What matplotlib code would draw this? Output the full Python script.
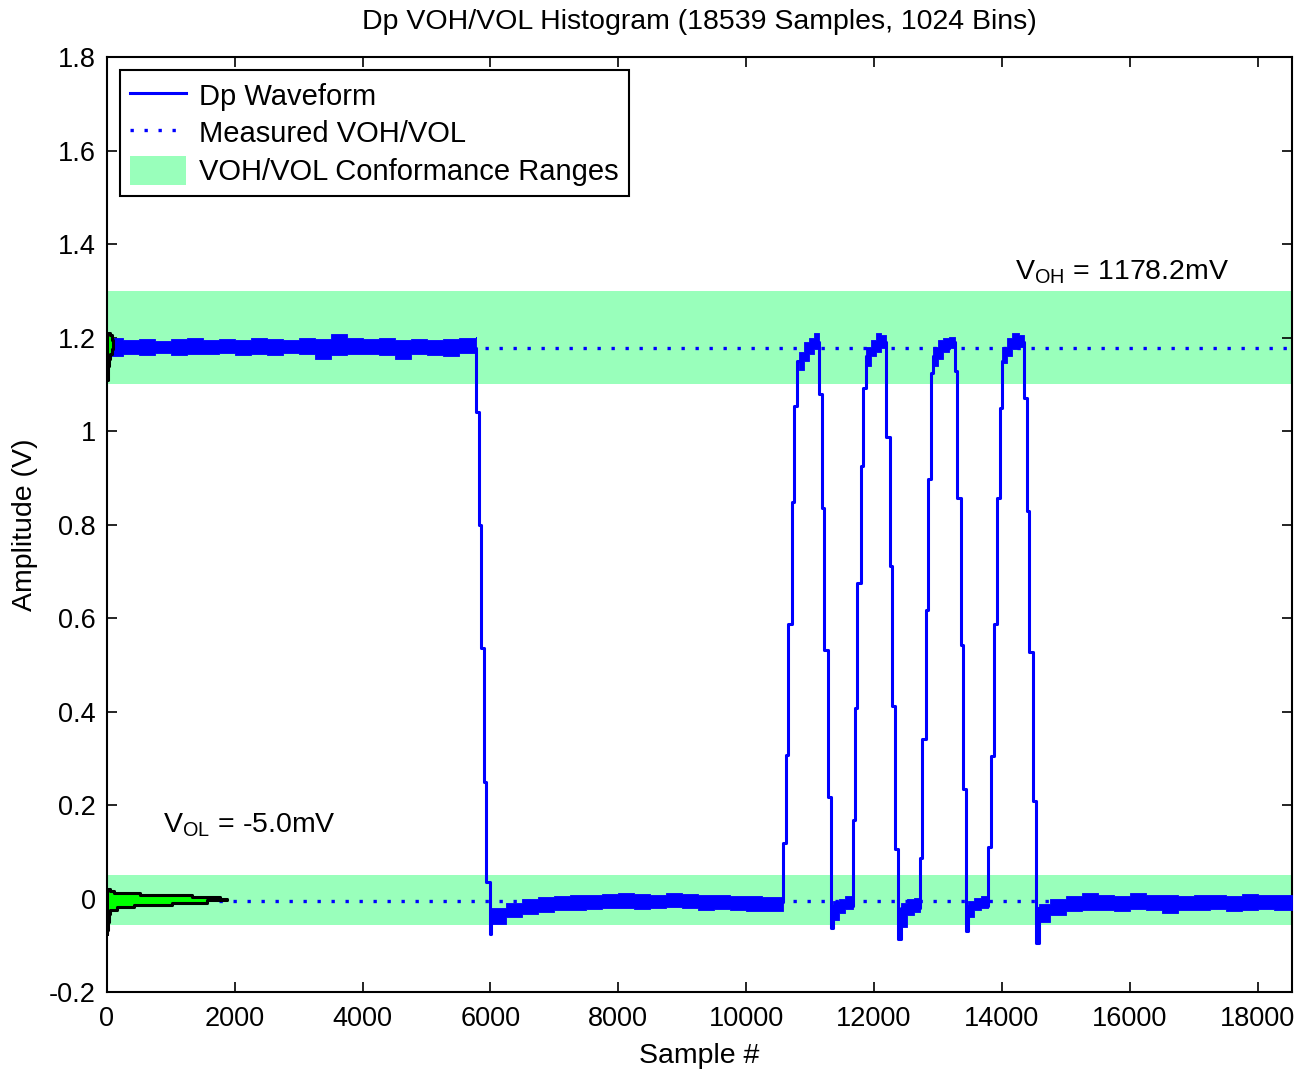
import matplotlib
matplotlib.use("Agg")
import matplotlib.pyplot as plt
from matplotlib.ticker import FuncFormatter
from matplotlib.patches import Patch
from matplotlib.lines import Line2D

plt.rcParams['font.family'] = ['Liberation Sans', 'DejaVu Sans']
plt.rcParams['mathtext.fontset'] = 'custom'
plt.rcParams['mathtext.rm'] = 'Liberation Sans'
plt.rcParams['mathtext.it'] = 'Liberation Sans'

nan = float('nan')

n_samples = 18539
voh_mv = 1178.2
vol_mv = -5.0
voh_range = (1.1, 1.3)
vol_range = (-0.056, 0.05)

# edge staircases, held values (steps-post): sample index, volts.
# nan breaks the line where the noisy envelope takes over
wave_x = [0, 5773, 5822, 5856, 5893, 5935, 5985, 6010, 6040,
          10550, 10580, 10622, 10658, 10712, 10752, 10790, 10831,
          11120, 11144, 11181, 11217, 11284, 11322, 11358,
          11666, 11702, 11738, 11792, 11832, 11874, 11900,
          12160, 12187, 12250, 12286, 12328, 12380, 12422,
          12719, 12755, 12808, 12849, 12891, 12927, 12950,
          13240, 13267, 13303, 13361, 13397, 13439, 13475,
          13788, 13830, 13882, 13919, 13971, 14007, 14030,
          14320, 14351, 14388, 14429, 14491, 14534, 14581]
wave_v = [1.178, 1.04, 0.80, 0.535, 0.25, 0.035, -0.075, -0.035, nan,
          -0.008, 0.119, 0.308, 0.588, 0.848, 1.054, 1.149, nan,
          1.19, 1.079, 0.836, 0.531, 0.218, -0.063, -0.015,
          0.168, 0.407, 0.675, 0.926, 1.091, 1.16, nan,
          1.19, 0.988, 0.712, 0.411, 0.106, -0.087, -0.02,
          0.086, 0.341, 0.617, 0.897, 1.124, 1.16, nan,
          1.19, 1.128, 0.856, 0.543, 0.234, -0.07, -0.015,
          0.11, 0.304, 0.588, 0.856, 1.05, 1.15, nan,
          1.19, 1.07, 0.828, 0.527, 0.209, -0.095, -0.02]

# noise envelope on the settled parts of the waveform
high_x = [0, 250, 500, 750, 1000, 1250, 1500, 1750, 2000, 2250, 2500, 2750,
          3000, 3250, 3500, 3750, 4000, 4250, 4500, 4750, 5000, 5250, 5500, 5773]
high_hi = [1.200, 1.195, 1.197, 1.193, 1.196, 1.199, 1.194, 1.197, 1.195, 1.198, 1.196, 1.194,
           1.199, 1.197, 1.208, 1.198, 1.196, 1.199, 1.195, 1.197, 1.194, 1.196, 1.199, 1.201]
high_lo = [1.160, 1.165, 1.163, 1.166, 1.162, 1.165, 1.164, 1.167, 1.163, 1.165, 1.162, 1.166,
           1.164, 1.155, 1.163, 1.165, 1.164, 1.162, 1.154, 1.165, 1.163, 1.161, 1.166, 1.165]

low1_x = [6010, 6250, 6500, 6750, 7000, 7250, 7500, 7750, 8000, 8250,
          8500, 8750, 9000, 9250, 9500, 9750, 10000, 10250, 10580]
low1_hi = [-0.020, -0.010, -0.002, 0.003, 0.006, 0.008, 0.007, 0.010, 0.011, 0.009,
           0.008, 0.012, 0.010, 0.007, 0.008, 0.006, 0.005, 0.004, 0.006]
low1_lo = [-0.055, -0.040, -0.033, -0.028, -0.025, -0.024, -0.022, -0.021, -0.020, -0.022,
           -0.021, -0.019, -0.021, -0.024, -0.022, -0.025, -0.026, -0.027, -0.026]

gap1_x = [11358, 11450, 11550, 11666]
gap1_hi = [-0.005, 0.000, 0.005, 0.008]
gap1_lo = [-0.045, -0.030, -0.022, -0.018]

gap2_x = [12422, 12520, 12620, 12719]
gap2_hi = [-0.010, -0.002, 0.002, 0.004]
gap2_lo = [-0.060, -0.035, -0.028, -0.025]

gap3_x = [13475, 13570, 13680, 13788]
gap3_hi = [-0.005, 0.002, 0.005, 0.006]
gap3_lo = [-0.040, -0.025, -0.020, -0.018]

low2_x = [14581, 14750, 15000, 15250, 15500, 15750, 16000, 16250, 16500,
          16750, 17000, 17250, 17500, 17750, 18000, 18250, 18539]
low2_hi = [-0.012, -0.002, 0.006, 0.012, 0.008, 0.006, 0.012, 0.008, 0.007,
           0.005, 0.007, 0.008, 0.006, 0.010, 0.008, 0.007, 0.007]
low2_lo = [-0.050, -0.035, -0.026, -0.025, -0.024, -0.026, -0.023, -0.025, -0.030,
           -0.024, -0.025, -0.023, -0.026, -0.024, -0.022, -0.025, -0.024]

top1_x = [10831, 10900, 10980, 11060, 11144]
top1_hi = [1.170, 1.190, 1.200, 1.210, 1.205]
top1_lo = [1.130, 1.150, 1.165, 1.175, 1.180]
top2_x = [11874, 11950, 12030, 12110, 12187]
top2_hi = [1.180, 1.195, 1.210, 1.205, 1.200]
top2_lo = [1.140, 1.160, 1.170, 1.178, 1.180]
top3_x = [12927, 13000, 13080, 13180, 13267]
top3_hi = [1.180, 1.195, 1.200, 1.202, 1.200]
top3_lo = [1.140, 1.155, 1.170, 1.178, 1.180]
top4_x = [14007, 14080, 14160, 14260, 14351]
top4_hi = [1.180, 1.198, 1.210, 1.205, 1.200]
top4_lo = [1.145, 1.160, 1.175, 1.180, 1.182]

# level histograms, counts drawn along the sample axis
hist_low_v = [-0.075, -0.060, -0.040, -0.028, -0.022, -0.016, -0.011, -0.006,
              -0.002, 0.002, 0.005, 0.009, 0.014, 0.020]
hist_low_n = [8, 15, 30, 50, 160, 420, 1020, 1560, 1880, 1770, 1330, 520, 110, 40]
hist_high_v = [1.11, 1.13, 1.15, 1.16, 1.17, 1.18, 1.19, 1.20, 1.21]
hist_high_n = [10, 15, 25, 50, 80, 90, 100, 80, 40]

blue = '#0000ff'
band_green = '#99ffbb'
fs = 20.5

fig = plt.figure(figsize=(13.06, 10.74), dpi=100)
ax = fig.add_axes([0.0819, 0.0763, 0.9074, 0.8706])

ax.axhspan(*voh_range, color=band_green, lw=0, zorder=1)
ax.axhspan(*vol_range, color=band_green, lw=0, zorder=1)

for lvl in (voh_mv / 1000.0, vol_mv / 1000.0):
    ax.plot([0, n_samples], [lvl, lvl], color=blue, lw=2.4,
            linestyle=(0, (1, 3.2)), dash_capstyle='butt', zorder=2)

envelopes = [(high_x, high_lo, high_hi), (low1_x, low1_lo, low1_hi),
             (gap1_x, gap1_lo, gap1_hi), (gap2_x, gap2_lo, gap2_hi),
             (gap3_x, gap3_lo, gap3_hi), (low2_x, low2_lo, low2_hi),
             (top1_x, top1_lo, top1_hi), (top2_x, top2_lo, top2_hi),
             (top3_x, top3_lo, top3_hi), (top4_x, top4_lo, top4_hi)]
for ex, elo, ehi in envelopes:
    ax.fill_between(ex, elo, ehi, step='post', color=blue, lw=0.6, zorder=3)

ax.plot(wave_x, wave_v, drawstyle='steps-post', color=blue, lw=2.2, zorder=3)

for hv, hn in ((hist_low_v, hist_low_n), (hist_high_v, hist_high_n)):
    ax.fill_betweenx(hv, 0, hn, step='mid', facecolor='#00ff00',
                     edgecolor='black', lw=2.2, zorder=4)

ax.set_xlim(0, n_samples)
ax.set_ylim(-0.2, 1.8)
ax.set_xticks(range(0, 18001, 2000))
ax.set_yticks([-0.2, 0, 0.2, 0.4, 0.6, 0.8, 1.0, 1.2, 1.4, 1.6, 1.8])
ax.yaxis.set_major_formatter(FuncFormatter(lambda v, p: '%g' % round(v, 1)))
ax.tick_params(direction='in', length=7, width=1.2, top=True, right=True,
               labelsize=19.5)
ax.tick_params(axis='x', pad=10)
ax.tick_params(axis='y', pad=8)
for sp in ax.spines.values():
    sp.set_linewidth(1.5)

ax.set_title('Dp VOH/VOL Histogram (%d Samples, 1024 Bins)' % n_samples,
             fontsize=fs, pad=20)
ax.set_xlabel('Sample #', fontsize=fs, labelpad=8)
ax.set_ylabel('Amplitude (V)', fontsize=fs, labelpad=8)

ax.text(14205, 1.34, r'V$_{\mathrm{OH}}$ = %.1fmV' % voh_mv, fontsize=fs,
        va='center', ha='left', zorder=5)
ax.text(876, 0.157, r'V$_{\mathrm{OL}}$ = %.1fmV' % vol_mv, fontsize=fs,
        va='center', ha='left', zorder=5)

handles = [Line2D([], [], color=blue, lw=2.2),
           Line2D([], [], color=blue, lw=2.4, linestyle=(0, (1, 3.2))),
           Patch(facecolor=band_green, edgecolor='none')]
labels = ['Dp Waveform', 'Measured VOH/VOL', 'VOH/VOL Conformance Ranges']
leg = ax.legend(handles, labels, loc='upper left', bbox_to_anchor=(0.011, 0.986),
                borderaxespad=0, fontsize=21, fancybox=False, framealpha=1,
                edgecolor='black', handlelength=1.9, handleheight=1.15,
                handletextpad=0.45, labelspacing=0.25, borderpad=0.35)
leg.get_frame().set_linewidth(1.5)
leg.set_zorder(6)

fig.savefig('out.png', dpi=100)
